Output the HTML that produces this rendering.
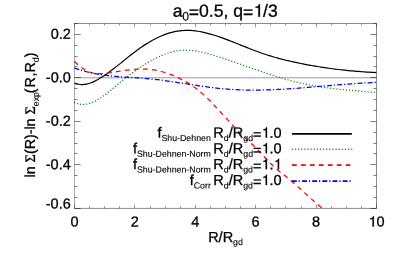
<!DOCTYPE html>
<html><head><meta charset="utf-8"><title>plot</title>
<style>
html,body{margin:0;padding:0;background:#fff;}
body{width:399px;height:256px;overflow:hidden;}
svg{display:block;will-change:transform;}
text{font-family:"Liberation Sans",sans-serif;fill:#000;text-rendering:geometricPrecision;stroke:#000;stroke-width:0.3px;}
.s{stroke-width:0.12px;}
.h{fill:none;stroke:none;}
</style></head><body>
<svg width="399" height="256" viewBox="0 0 399 256">
<rect width="399" height="256" fill="#fff"/>
<line x1="74.50" y1="77.80" x2="376.50" y2="77.80" stroke="#9a9a9a" stroke-width="1"/>
<path d="M74.50 83.07C75.16 83.27 77.15 84.02 78.47 84.27C79.80 84.52 81.12 84.61 82.44 84.59C83.77 84.57 85.09 84.40 86.42 84.14C87.74 83.88 89.07 83.50 90.39 83.04C91.71 82.58 93.04 82.01 94.36 81.38C95.69 80.76 97.01 80.04 98.33 79.29C99.66 78.53 100.98 77.71 102.31 76.86C103.63 76.01 104.95 75.11 106.28 74.19C107.60 73.26 108.93 72.30 110.25 71.31C111.58 70.33 112.90 69.31 114.22 68.29C115.55 67.26 116.87 66.21 118.20 65.15C119.52 64.10 120.84 63.02 122.17 61.96C123.49 60.89 124.82 59.81 126.14 58.75C127.46 57.69 128.79 56.62 130.11 55.58C131.44 54.53 132.76 53.50 134.09 52.49C135.41 51.48 136.73 50.49 138.06 49.53C139.38 48.57 140.71 47.63 142.03 46.73C143.35 45.83 144.68 44.96 146.00 44.12C147.33 43.28 148.65 42.47 149.97 41.70C151.30 40.92 152.62 40.18 153.95 39.48C155.27 38.78 156.60 38.11 157.92 37.48C159.24 36.85 160.57 36.25 161.89 35.70C163.22 35.15 164.54 34.63 165.86 34.16C167.19 33.69 168.51 33.25 169.84 32.87C171.16 32.48 172.49 32.13 173.81 31.83C175.13 31.53 176.46 31.27 177.78 31.06C179.11 30.85 180.43 30.69 181.75 30.58C183.08 30.46 184.40 30.39 185.73 30.37C187.05 30.34 188.37 30.36 189.70 30.42C191.02 30.48 192.35 30.58 193.67 30.71C195.00 30.84 196.32 31.02 197.64 31.22C198.97 31.42 200.29 31.66 201.62 31.92C202.94 32.19 204.26 32.48 205.59 32.80C206.91 33.12 208.24 33.47 209.56 33.84C210.88 34.20 212.21 34.60 213.53 35.00C214.86 35.41 216.18 35.84 217.51 36.28C218.83 36.73 220.15 37.19 221.48 37.66C222.80 38.13 224.13 38.61 225.45 39.11C226.77 39.60 228.10 40.10 229.42 40.61C230.75 41.12 232.07 41.64 233.39 42.17C234.72 42.69 236.04 43.22 237.37 43.75C238.69 44.28 240.02 44.81 241.34 45.34C242.66 45.87 243.99 46.41 245.31 46.93C246.64 47.46 247.96 47.99 249.28 48.50C250.61 49.02 251.93 49.54 253.26 50.04C254.58 50.55 255.90 51.04 257.23 51.53C258.55 52.01 259.88 52.49 261.20 52.95C262.53 53.41 263.85 53.86 265.17 54.29C266.50 54.73 267.82 55.15 269.15 55.56C270.47 55.97 271.79 56.37 273.12 56.76C274.44 57.15 275.77 57.52 277.09 57.89C278.41 58.26 279.74 58.61 281.06 58.96C282.39 59.31 283.71 59.64 285.04 59.97C286.36 60.30 287.68 60.62 289.01 60.93C290.33 61.24 291.66 61.54 292.98 61.83C294.30 62.13 295.63 62.42 296.95 62.70C298.28 62.98 299.60 63.25 300.92 63.52C302.25 63.78 303.57 64.04 304.90 64.30C306.22 64.55 307.55 64.80 308.87 65.04C310.19 65.28 311.52 65.52 312.84 65.75C314.17 65.98 315.49 66.21 316.81 66.42C318.14 66.64 319.46 66.86 320.79 67.06C322.11 67.27 323.44 67.47 324.76 67.67C326.08 67.86 327.41 68.05 328.73 68.23C330.06 68.42 331.38 68.60 332.70 68.77C334.03 68.94 335.35 69.11 336.68 69.27C338.00 69.43 339.32 69.59 340.65 69.74C341.97 69.89 343.30 70.04 344.62 70.18C345.95 70.32 347.27 70.45 348.59 70.59C349.92 70.72 351.24 70.84 352.57 70.96C353.89 71.08 355.21 71.20 356.54 71.31C357.86 71.41 359.19 71.52 360.51 71.62C361.83 71.72 363.16 71.82 364.48 71.91C365.81 72.00 367.13 72.08 368.46 72.16C369.78 72.24 371.10 72.32 372.43 72.39C373.75 72.46 375.74 72.56 376.40 72.59" fill="none" stroke="#000" stroke-width="1.2"/>
<path d="M74.50 102.48C75.16 102.72 77.15 103.60 78.47 103.93C79.80 104.26 81.12 104.41 82.44 104.45C83.77 104.49 85.09 104.37 86.42 104.14C87.74 103.92 89.07 103.56 90.39 103.11C91.71 102.66 93.04 102.10 94.36 101.46C95.69 100.82 97.01 100.08 98.33 99.28C99.66 98.48 100.98 97.60 102.31 96.68C103.63 95.76 104.95 94.77 106.28 93.76C107.60 92.75 108.93 91.68 110.25 90.61C111.58 89.54 112.90 88.42 114.22 87.32C115.55 86.22 116.87 85.10 118.20 84.00C119.52 82.90 120.84 81.80 122.17 80.73C123.49 79.66 124.82 78.61 126.14 77.57C127.46 76.54 128.79 75.53 130.11 74.54C131.44 73.55 132.76 72.58 134.09 71.63C135.41 70.68 136.73 69.76 138.06 68.85C139.38 67.94 140.71 67.06 142.03 66.20C143.35 65.34 144.68 64.50 146.00 63.69C147.33 62.88 148.65 62.09 149.97 61.33C151.30 60.58 152.62 59.85 153.95 59.15C155.27 58.46 156.60 57.79 157.92 57.17C159.24 56.54 160.57 55.95 161.89 55.39C163.22 54.84 164.54 54.32 165.86 53.85C167.19 53.38 168.51 52.94 169.84 52.55C171.16 52.17 172.49 51.82 173.81 51.53C175.13 51.23 176.46 50.98 177.78 50.79C179.11 50.59 180.43 50.45 181.75 50.35C183.08 50.26 184.40 50.22 185.73 50.22C187.05 50.22 188.37 50.28 189.70 50.37C191.02 50.46 192.35 50.59 193.67 50.76C195.00 50.93 196.32 51.13 197.64 51.37C198.97 51.60 200.29 51.87 201.62 52.16C202.94 52.45 204.26 52.77 205.59 53.11C206.91 53.45 208.24 53.81 209.56 54.19C210.88 54.56 212.21 54.95 213.53 55.35C214.86 55.75 216.18 56.17 217.51 56.59C218.83 57.00 220.15 57.43 221.48 57.86C222.80 58.29 224.13 58.72 225.45 59.16C226.77 59.60 228.10 60.04 229.42 60.49C230.75 60.94 232.07 61.39 233.39 61.84C234.72 62.29 236.04 62.75 237.37 63.21C238.69 63.66 240.02 64.12 241.34 64.58C242.66 65.04 243.99 65.51 245.31 65.97C246.64 66.43 247.96 66.89 249.28 67.35C250.61 67.81 251.93 68.27 253.26 68.73C254.58 69.19 255.90 69.65 257.23 70.10C258.55 70.56 259.88 71.01 261.20 71.46C262.53 71.91 263.85 72.36 265.17 72.80C266.50 73.24 267.82 73.68 269.15 74.11C270.47 74.55 271.79 74.98 273.12 75.40C274.44 75.82 275.77 76.24 277.09 76.65C278.41 77.06 279.74 77.46 281.06 77.86C282.39 78.26 283.71 78.65 285.04 79.03C286.36 79.41 287.68 79.78 289.01 80.14C290.33 80.51 291.66 80.86 292.98 81.21C294.30 81.55 295.63 81.89 296.95 82.21C298.28 82.53 299.60 82.85 300.92 83.15C302.25 83.45 303.57 83.74 304.90 84.02C306.22 84.30 307.55 84.57 308.87 84.82C310.19 85.08 311.52 85.33 312.84 85.57C314.17 85.80 315.49 86.03 316.81 86.25C318.14 86.47 319.46 86.68 320.79 86.88C322.11 87.09 323.44 87.28 324.76 87.47C326.08 87.65 327.41 87.83 328.73 88.01C330.06 88.18 331.38 88.34 332.70 88.50C334.03 88.66 335.35 88.82 336.68 88.97C338.00 89.11 339.32 89.26 340.65 89.40C341.97 89.53 343.30 89.67 344.62 89.80C345.95 89.93 347.27 90.05 348.59 90.18C349.92 90.30 351.24 90.42 352.57 90.53C353.89 90.65 355.21 90.77 356.54 90.88C357.86 90.99 359.19 91.10 360.51 91.21C361.83 91.32 363.16 91.43 364.48 91.54C365.81 91.64 367.13 91.75 368.46 91.86C369.78 91.97 371.10 92.07 372.43 92.18C373.75 92.29 375.74 92.46 376.40 92.51" fill="none" stroke="#1c861c" stroke-width="1.4" stroke-linecap="round" stroke-dasharray="0.01 3.11"/>
<path d="M74.50 61.50C75.17 62.12 77.16 64.10 78.50 65.22C79.83 66.35 81.16 67.37 82.49 68.27C83.83 69.17 85.16 69.95 86.49 70.62C87.82 71.29 89.15 71.83 90.49 72.26C91.82 72.70 93.15 72.99 94.48 73.21C95.82 73.43 97.15 73.54 98.48 73.59C99.81 73.63 101.15 73.59 102.48 73.51C103.81 73.44 105.14 73.29 106.47 73.13C107.81 72.97 109.14 72.77 110.47 72.58C111.80 72.38 113.14 72.17 114.47 71.96C115.80 71.76 117.13 71.55 118.46 71.35C119.80 71.14 121.13 70.94 122.46 70.75C123.79 70.56 125.13 70.37 126.46 70.20C127.79 70.03 129.12 69.86 130.45 69.72C131.79 69.58 133.12 69.45 134.45 69.35C135.78 69.25 137.12 69.16 138.45 69.11C139.78 69.05 141.11 69.02 142.45 69.02C143.78 69.03 145.11 69.05 146.44 69.12C147.77 69.19 149.11 69.29 150.44 69.44C151.77 69.58 153.10 69.76 154.44 69.98C155.77 70.20 157.10 70.45 158.43 70.75C159.76 71.04 161.10 71.37 162.43 71.74C163.76 72.10 165.09 72.51 166.43 72.94C167.76 73.38 169.09 73.86 170.42 74.37C171.75 74.88 173.09 75.42 174.42 76.00C175.75 76.58 177.08 77.19 178.42 77.84C179.75 78.48 181.08 79.16 182.41 79.88C183.75 80.59 185.08 81.34 186.41 82.13C187.74 82.92 189.07 83.74 190.41 84.61C191.74 85.48 193.07 86.38 194.40 87.34C195.74 88.30 197.07 89.29 198.40 90.34C199.73 91.39 201.06 92.49 202.40 93.64C203.73 94.79 205.06 95.99 206.39 97.25C207.73 98.51 209.06 99.83 210.39 101.20C211.72 102.57 213.05 104.01 214.39 105.45C215.72 106.88 217.05 108.36 218.38 109.80C219.72 111.24 221.05 112.67 222.38 114.10C223.71 115.54 225.05 116.97 226.38 118.42C227.71 119.87 229.04 121.36 230.37 122.82C231.71 124.29 233.04 125.78 234.37 127.21C235.70 128.65 237.04 130.08 238.37 131.44C239.70 132.80 241.03 134.10 242.36 135.36C243.70 136.62 245.03 137.80 246.36 139.01C247.69 140.21 249.03 141.37 250.36 142.61C251.69 143.84 253.02 145.08 254.35 146.40C255.69 147.72 257.02 149.11 258.35 150.52C259.68 151.92 261.02 153.39 262.35 154.83C263.68 156.27 265.01 157.74 266.35 159.14C267.68 160.55 269.01 161.96 270.34 163.28C271.67 164.60 273.01 165.86 274.34 167.06C275.67 168.26 277.00 169.38 278.34 170.48C279.67 171.58 281.00 172.62 282.33 173.69C283.66 174.75 285.00 175.77 286.33 176.84C287.66 177.91 288.99 178.98 290.33 180.10C291.66 181.22 292.99 182.38 294.32 183.56C295.65 184.73 296.99 185.94 298.32 187.14C299.65 188.35 300.98 189.57 302.32 190.78C303.65 192.00 304.98 193.22 306.31 194.41C307.65 195.61 308.98 196.79 310.31 197.97C311.64 199.14 312.97 200.30 314.31 201.46C315.64 202.61 316.97 203.76 318.30 204.92C319.64 206.08 321.63 207.82 322.30 208.39" fill="none" stroke="#f00" stroke-width="1.25" stroke-dasharray="4.8 4.24"/>
<path d="M74.50 67.99C75.16 68.23 77.15 68.96 78.47 69.40C79.80 69.85 81.12 70.26 82.44 70.65C83.77 71.04 85.09 71.40 86.42 71.74C87.74 72.08 89.07 72.40 90.39 72.69C91.71 72.99 93.04 73.26 94.36 73.52C95.69 73.78 97.01 74.01 98.33 74.23C99.66 74.45 100.98 74.66 102.31 74.85C103.63 75.03 104.95 75.21 106.28 75.37C107.60 75.53 108.93 75.68 110.25 75.82C111.58 75.96 112.90 76.09 114.22 76.21C115.55 76.34 116.87 76.45 118.20 76.56C119.52 76.66 120.84 76.76 122.17 76.86C123.49 76.96 124.82 77.05 126.14 77.14C127.46 77.23 128.79 77.31 130.11 77.40C131.44 77.48 132.76 77.57 134.09 77.66C135.41 77.74 136.73 77.83 138.06 77.92C139.38 78.01 140.71 78.11 142.03 78.21C143.35 78.31 144.68 78.41 146.00 78.52C147.33 78.63 148.65 78.75 149.97 78.88C151.30 79.01 152.62 79.14 153.95 79.29C155.27 79.43 156.60 79.58 157.92 79.74C159.24 79.90 160.57 80.06 161.89 80.23C163.22 80.41 164.54 80.58 165.86 80.77C167.19 80.95 168.51 81.14 169.84 81.33C171.16 81.52 172.49 81.71 173.81 81.91C175.13 82.11 176.46 82.31 177.78 82.51C179.11 82.72 180.43 82.92 181.75 83.13C183.08 83.33 184.40 83.54 185.73 83.75C187.05 83.95 188.37 84.16 189.70 84.37C191.02 84.57 192.35 84.78 193.67 84.98C195.00 85.18 196.32 85.39 197.64 85.58C198.97 85.78 200.29 85.98 201.62 86.17C202.94 86.36 204.26 86.55 205.59 86.73C206.91 86.91 208.24 87.09 209.56 87.26C210.88 87.43 212.21 87.60 213.53 87.76C214.86 87.92 216.18 88.07 217.51 88.21C218.83 88.36 220.15 88.50 221.48 88.62C222.80 88.75 224.13 88.87 225.45 88.98C226.77 89.09 228.10 89.19 229.42 89.28C230.75 89.37 232.07 89.46 233.39 89.53C234.72 89.61 236.04 89.67 237.37 89.73C238.69 89.79 240.02 89.84 241.34 89.88C242.66 89.93 243.99 89.96 245.31 89.99C246.64 90.02 247.96 90.04 249.28 90.06C250.61 90.07 251.93 90.08 253.26 90.08C254.58 90.08 255.90 90.07 257.23 90.06C258.55 90.05 259.88 90.03 261.20 90.01C262.53 89.99 263.85 89.96 265.17 89.92C266.50 89.89 267.82 89.85 269.15 89.81C270.47 89.76 271.79 89.71 273.12 89.66C274.44 89.60 275.77 89.54 277.09 89.48C278.41 89.42 279.74 89.35 281.06 89.28C282.39 89.21 283.71 89.13 285.04 89.05C286.36 88.97 287.68 88.89 289.01 88.81C290.33 88.72 291.66 88.63 292.98 88.54C294.30 88.45 295.63 88.35 296.95 88.26C298.28 88.16 299.60 88.06 300.92 87.96C302.25 87.86 303.57 87.75 304.90 87.65C306.22 87.54 307.55 87.44 308.87 87.33C310.19 87.22 311.52 87.11 312.84 87.00C314.17 86.89 315.49 86.78 316.81 86.66C318.14 86.55 319.46 86.44 320.79 86.33C322.11 86.21 323.44 86.10 324.76 85.99C326.08 85.87 327.41 85.76 328.73 85.65C330.06 85.53 331.38 85.42 332.70 85.31C334.03 85.20 335.35 85.09 336.68 84.98C338.00 84.87 339.32 84.76 340.65 84.65C341.97 84.55 343.30 84.44 344.62 84.34C345.95 84.24 347.27 84.13 348.59 84.03C349.92 83.94 351.24 83.84 352.57 83.74C353.89 83.65 355.21 83.56 356.54 83.47C357.86 83.38 359.19 83.30 360.51 83.21C361.83 83.13 363.16 83.05 364.48 82.98C365.81 82.90 367.13 82.83 368.46 82.77C369.78 82.70 371.10 82.64 372.43 82.58C373.75 82.52 375.74 82.44 376.40 82.42" fill="none" stroke="#00f" stroke-width="1.25" stroke-dasharray="4.9 1.9 1.2 2.18"/>
<path d="M74.50 23.30V208.60" fill="none" stroke="#000" stroke-width="0.34"/>
<path d="M74.50 23.50H376.50V208.40H74.50" fill="none" stroke="#000" stroke-width="0.46"/>
<path d="M74.50 208.40 v-3.70M74.50 23.50 v3.70M89.50 208.40 v-2.10M89.50 23.50 v2.10M104.50 208.40 v-2.10M104.50 23.50 v2.10M119.50 208.40 v-2.10M119.50 23.50 v2.10M134.50 208.40 v-3.70M134.50 23.50 v3.70M150.50 208.40 v-2.10M150.50 23.50 v2.10M165.50 208.40 v-2.10M165.50 23.50 v2.10M180.50 208.40 v-2.10M180.50 23.50 v2.10M195.50 208.40 v-3.70M195.50 23.50 v3.70M210.50 208.40 v-2.10M210.50 23.50 v2.10M225.50 208.40 v-2.10M225.50 23.50 v2.10M240.50 208.40 v-2.10M240.50 23.50 v2.10M255.50 208.40 v-3.70M255.50 23.50 v3.70M270.50 208.40 v-2.10M270.50 23.50 v2.10M285.50 208.40 v-2.10M285.50 23.50 v2.10M301.50 208.40 v-2.10M301.50 23.50 v2.10M316.50 208.40 v-3.70M316.50 23.50 v3.70M331.50 208.40 v-2.10M331.50 23.50 v2.10M346.50 208.40 v-2.10M346.50 23.50 v2.10M361.50 208.40 v-2.10M361.50 23.50 v2.10M376.50 208.40 v-3.70M376.50 23.50 v3.70" fill="none" stroke="#000" stroke-width="0.42"/>
<path d="M74.50 208.50 h6.20M376.50 208.50 h-6.20M74.50 197.50 h3.10M376.50 197.50 h-3.10M74.50 186.50 h3.10M376.50 186.50 h-3.10M74.50 175.50 h3.10M376.50 175.50 h-3.10M74.50 164.50 h6.20M376.50 164.50 h-6.20M74.50 153.50 h3.10M376.50 153.50 h-3.10M74.50 143.50 h3.10M376.50 143.50 h-3.10M74.50 132.50 h3.10M376.50 132.50 h-3.10M74.50 121.50 h6.20M376.50 121.50 h-6.20M74.50 110.50 h3.10M376.50 110.50 h-3.10M74.50 99.50 h3.10M376.50 99.50 h-3.10M74.50 88.50 h3.10M376.50 88.50 h-3.10M74.50 77.50 h6.20M376.50 77.50 h-6.20M74.50 66.50 h3.10M376.50 66.50 h-3.10M74.50 56.50 h3.10M376.50 56.50 h-3.10M74.50 45.50 h3.10M376.50 45.50 h-3.10M74.50 34.50 h6.20M376.50 34.50 h-6.20M74.50 23.50 h3.10M376.50 23.50 h-3.10" fill="none" stroke="#000" stroke-width="0.50"/>
<line x1="292.0" y1="133.85" x2="351.8" y2="133.85" stroke="#000" stroke-width="1.7"/>
<line x1="292.4" y1="149.35" x2="351.8" y2="149.35" stroke="#1c861c" stroke-width="1.5" stroke-linecap="round" stroke-dasharray="0.01 3.11"/>
<line x1="292.0" y1="165.15" x2="351.8" y2="165.15" stroke="#f00" stroke-width="1.6" stroke-dasharray="4.75 4.2"/>
<line x1="291.9" y1="181.1" x2="351.8" y2="181.1" stroke="#00f" stroke-width="1.6" stroke-dasharray="4.9 1.9 1.2 2.15"/>
<g transform="rotate(0.03 200 128)">
<text x="172.7" y="16.7" font-size="17.6">a<tspan class="s" font-size="12.3" dy="3.9" dx="-0.2">0</tspan><tspan dy="-2.5" dx="-0.5">=</tspan><tspan dy="-1.4">0.5, q</tspan><tspan dy="1.4">=</tspan><tspan dy="-1.4"><tspan class="h">1</tspan>/3</tspan></text>
<text x="74.50" y="226.5" text-anchor="middle" font-size="14.5">0</text>
<text x="134.90" y="226.5" text-anchor="middle" font-size="14.5">2</text>
<text x="195.30" y="226.5" text-anchor="middle" font-size="14.5">4</text>
<text x="255.70" y="226.5" text-anchor="middle" font-size="14.5">6</text>
<text x="316.10" y="226.5" text-anchor="middle" font-size="14.5">8</text>
<text x="376.50" y="226.5" text-anchor="middle" font-size="14.5"><tspan class="h">1</tspan>0</text>
<text x="70.8" y="38.95" text-anchor="end" font-size="14.5">0.2</text>
<text x="70.8" y="82.45" text-anchor="end" font-size="14.5">-0.0</text>
<text x="70.8" y="125.95" text-anchor="end" font-size="14.5">-0.2</text>
<text x="70.8" y="169.45" text-anchor="end" font-size="14.5">-0.4</text>
<text x="70.8" y="208.7" text-anchor="end" font-size="14.5">-0.6</text>
<text x="208.2" y="242.1" font-size="14.5">R/R<tspan class="s" font-size="8.8" dy="3">gd</tspan></text>
<text transform="translate(35,177.6) rotate(-90) scale(0.984,1)" font-size="14.5">ln <tspan font-family="Liberation Serif">&#931;</tspan>(R)-ln <tspan font-family="Liberation Serif">&#931;</tspan><tspan class="s" font-size="8.8" dy="3.8">exp</tspan><tspan dy="-3.8" dx="-1.0">(</tspan><tspan dx="0.9">R</tspan><tspan dx="0.8">,R</tspan><tspan class="s" font-size="9.0" dy="3.8">d</tspan><tspan dy="-3.8">)</tspan></text>
<text x="281.7" y="137.6" text-anchor="end" font-size="14.5">f<tspan class="s" font-size="8.8" dy="3.4">Shu-Dehnen</tspan><tspan dy="-3.4" dx="-1.5"> R</tspan><tspan class="s" font-size="8.8" dy="3.4">d</tspan><tspan dy="-3.4">/R</tspan><tspan class="s" font-size="8.8" dy="3.4">gd</tspan><tspan dy="-1.8">=</tspan><tspan dy="-1.6"><tspan class="h">1</tspan>.0</tspan></text>
<text x="281.7" y="153.3" text-anchor="end" font-size="14.5">f<tspan class="s" font-size="8.8" dy="3.4">Shu-Dehnen-Norm</tspan><tspan dy="-3.4" dx="-1.5"> R</tspan><tspan class="s" font-size="8.8" dy="3.4">d</tspan><tspan dy="-3.4">/R</tspan><tspan class="s" font-size="8.8" dy="3.4">gd</tspan><tspan dy="-1.8">=</tspan><tspan dy="-1.6"><tspan class="h">1</tspan>.0</tspan></text>
<text x="281.7" y="169.1" text-anchor="end" font-size="14.5">f<tspan class="s" font-size="8.8" dy="3.4">Shu-Dehnen-Norm</tspan><tspan dy="-3.4" dx="-1.5"> R</tspan><tspan class="s" font-size="8.8" dy="3.4">d</tspan><tspan dy="-3.4">/R</tspan><tspan class="s" font-size="8.8" dy="3.4">gd</tspan><tspan dy="-1.8">=</tspan><tspan dy="-1.6"><tspan class="h">1</tspan>.<tspan class="h">1</tspan></tspan></text>
<text x="281.7" y="185.0" text-anchor="end" font-size="14.5">f<tspan class="s" font-size="8.8" dy="3.4">Corr</tspan><tspan dy="-3.4" dx="-1.5"> R</tspan><tspan class="s" font-size="8.8" dy="3.4">d</tspan><tspan dy="-3.4">/R</tspan><tspan class="s" font-size="8.8" dy="3.4">gd</tspan><tspan dy="-1.8">=</tspan><tspan dy="-1.6"><tspan class="h">1</tspan>.0</tspan></text>
<path d="M289 0V505H132V568C269 586 288 600 320 709H377V0Z" transform="translate(253.23,16.70) scale(0.01760,-0.01760)" fill="#000" stroke="#000" stroke-width="17.0"/>
<path d="M289 0V505H132V568C269 586 288 600 320 709H377V0Z" transform="translate(368.42,226.50) scale(0.01450,-0.01450)" fill="#000" stroke="#000" stroke-width="20.7"/>
<path d="M289 0V505H132V568C269 586 288 600 320 709H377V0Z" transform="translate(261.53,137.60) scale(0.01450,-0.01450)" fill="#000" stroke="#000" stroke-width="20.7"/>
<path d="M289 0V505H132V568C269 586 288 600 320 709H377V0Z" transform="translate(261.53,153.30) scale(0.01450,-0.01450)" fill="#000" stroke="#000" stroke-width="20.7"/>
<path d="M289 0V505H132V568C269 586 288 600 320 709H377V0Z" transform="translate(261.51,169.10) scale(0.01450,-0.01450)" fill="#000" stroke="#000" stroke-width="20.7"/>
<path d="M289 0V505H132V568C269 586 288 600 320 709H377V0Z" transform="translate(273.62,169.10) scale(0.01450,-0.01450)" fill="#000" stroke="#000" stroke-width="20.7"/>
<path d="M289 0V505H132V568C269 586 288 600 320 709H377V0Z" transform="translate(261.53,185.00) scale(0.01450,-0.01450)" fill="#000" stroke="#000" stroke-width="20.7"/>
</g>
</svg>
</body></html>
